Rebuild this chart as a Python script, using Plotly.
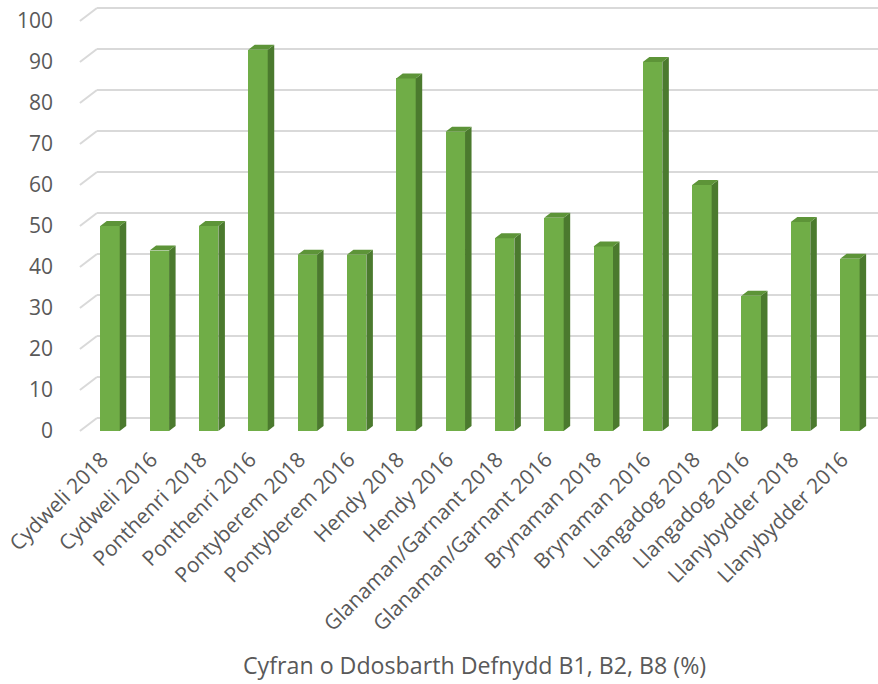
import plotly.graph_objects as go

categories = ["Cydweli 2018", "Cydweli 2016", "Ponthenri 2018", "Ponthenri 2016",
              "Pontyberem 2018", "Pontyberem 2016", "Hendy 2018", "Hendy 2016",
              "Glanaman/Garnant 2018", "Glanaman/Garnant 2016", "Brynaman 2018",
              "Brynaman 2016", "Llangadog 2018", "Llangadog 2016", "Llanybydder 2018",
              "Llanybydder 2016"]
values = [50, 44, 50, 93, 43, 43, 86, 73, 47, 52, 45, 90, 60, 33, 51, 42]
y_ticks = [0, 10, 20, 30, 40, 50, 60, 70, 80, 90, 100]
axis_title = "Cyfran o Ddosbarth Defnydd B1, B2, B8 (%)"

FRONT = "#70ad47"
SIDE = "#4b7a2e"
TOP = "#5d9438"
GRID = "#d9d9d9"
TXT = "#595959"
FONT = "Open Sans"

xs = list(range(len(categories)))
W = 0.395      # front face width (x units)
DX = 0.132     # bar depth (x units)
DY = 1.22      # bar depth (y units)
GX0, GX1, GXR = -0.61, -0.265, 15.6   # floor front edge, back wall start, right end
GDY = 3.17
XR = [-0.649, 15.57]
LBL_SHIFT = 0.16

fig = go.Figure()

shapes = []
for t in y_ticks:
    shapes.append(dict(type="line", xref="x", yref="y", x0=GX1, x1=GXR, y0=t + GDY, y1=t + GDY,
                       line=dict(color=GRID, width=2), layer="below"))
    shapes.append(dict(type="line", xref="x", yref="y", x0=GX0, x1=GX1, y0=t, y1=t + GDY,
                       line=dict(color=GRID, width=2), layer="below"))

fig.add_trace(go.Bar(x=xs, y=values, width=W, marker=dict(color=FRONT, line=dict(width=0)),
                     hoverinfo="skip", showlegend=False))

sx, sy = [], []
tx, ty = [], []
for x, v in zip(xs, values):
    r = x + W / 2
    l = x - W / 2
    sx += [r, r + DX, r + DX, r, r, None]
    sy += [0, DY, v + DY, v, 0, None]
    tx += [l, l + DX, r + DX, r, l, None]
    ty += [v, v + DY, v + DY, v, v, None]
fig.add_trace(go.Scatter(x=sx, y=sy, mode="lines", fill="toself", fillcolor=SIDE,
                         line=dict(width=0, color=SIDE), hoverinfo="skip", showlegend=False))
fig.add_trace(go.Scatter(x=tx, y=ty, mode="lines", fill="toself", fillcolor=TOP,
                         line=dict(width=0, color=TOP), hoverinfo="skip", showlegend=False))
# invisible trace on label axis
fig.add_trace(go.Scatter(x=xs, y=[None] * len(xs), xaxis="x2", mode="markers",
                         hoverinfo="skip", showlegend=False))

fig.update_layout(
    width=878, height=684,
    margin=dict(l=78, r=0, t=6, b=244),
    plot_bgcolor="white", paper_bgcolor="white",
    font=dict(family=FONT, color=TXT, size=21),
    shapes=shapes,
    bargap=0,
    xaxis=dict(range=XR, showticklabels=False, showgrid=False, zeroline=False,
               showline=False, ticks=""),
    xaxis2=dict(range=[XR[0] + LBL_SHIFT, XR[1] + LBL_SHIFT], overlaying="x", anchor="y",
                side="bottom", tickmode="array", tickvals=xs, ticktext=categories,
                tickangle=-45, showgrid=False, zeroline=False, showline=False,
                ticks="", ticklabelstandoff=2, tickfont=dict(size=21, color=TXT)),
    yaxis=dict(range=[-2.2, 103.66], tickmode="array", tickvals=y_ticks, showgrid=False,
               zeroline=False, showline=False, ticks="", ticklabelstandoff=24,
               tickfont=dict(size=21, color=TXT)),
    annotations=[dict(text=axis_title, xref="paper", yref="paper", x=0.496, y=-0.518,
                      xanchor="center", yanchor="middle", showarrow=False,
                      font=dict(size=23.2, color=TXT, family=FONT))],
)

fig.write_html("out.html", config={"displayModeBar": False},
               post_script="document.body.style.margin='0';document.body.style.padding='0';")
